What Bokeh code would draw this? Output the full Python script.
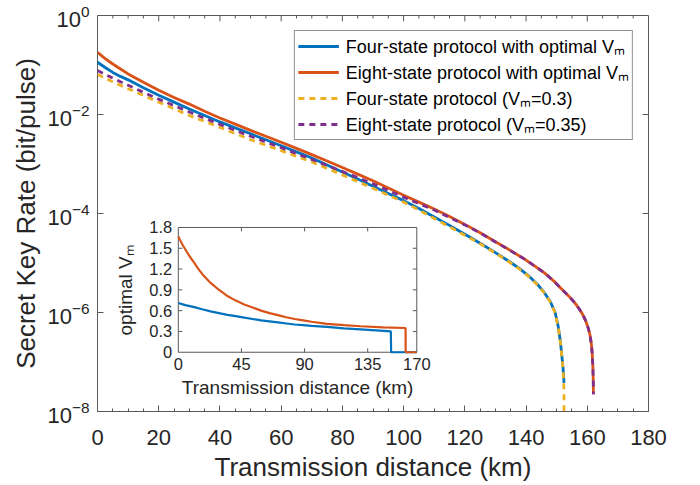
import numpy as np
from bokeh.plotting import figure
from bokeh.models import (Range1d, LinearScale, FixedTicker, SingleIntervalTicker,
                          Legend, LegendItem, ColumnDataSource)
from bokeh.core.properties import value
from bokeh.embed import file_html
from bokeh.resources import INLINE

# ---------------- data ----------------
# main plot: secret key rate, stored as log10(rate)
dist_four_opt = [0, 2.5, 5, 7.5, 10, 15, 20, 25, 30, 35, 40, 45, 50, 55, 60, 65, 70, 75, 80, 85,
                 90, 95, 100, 105, 110, 115, 120, 125, 130, 135, 138, 141, 144, 146, 148, 149.5,
                 150.5, 151.2, 151.7, 152.1, 152.4]
log_four_opt = [-0.945, -1.05, -1.15, -1.23, -1.30, -1.46, -1.61, -1.75, -1.89, -2.02, -2.15,
                -2.27, -2.39, -2.51, -2.63, -2.755, -2.88, -3.02, -3.16, -3.305, -3.45, -3.595,
                -3.74, -3.90, -4.07, -4.24, -4.42, -4.60, -4.79, -4.99, -5.12, -5.27, -5.45,
                -5.60, -5.79, -6.00, -6.28, -6.58, -6.88, -7.13, -7.42]

dist_eight_opt = [0, 2.5, 5, 7.5, 10, 15, 20, 25, 30, 35, 40, 45, 50, 55, 60, 65, 70, 75, 80, 85,
                  90, 95, 100, 105, 110, 115, 120, 125, 130, 135, 140, 143, 146, 149, 152, 154,
                  156, 157.5, 158.5, 159.5, 160.3, 160.9, 161.3, 161.6, 161.8, 161.95, 162.0]
log_eight_opt = [-0.745, -0.87, -0.98, -1.08, -1.18, -1.35, -1.51, -1.655, -1.79, -1.935, -2.07,
                 -2.195, -2.32, -2.44, -2.56, -2.685, -2.81, -2.94, -3.07, -3.205, -3.34, -3.485,
                 -3.63, -3.77, -3.91, -4.06, -4.22, -4.39, -4.57, -4.75, -4.94, -5.07, -5.20,
                 -5.36, -5.55, -5.67, -5.81, -5.94, -6.04, -6.17, -6.31, -6.46, -6.62, -6.82,
                 -7.05, -7.35, -7.65]

dist_four_fix = [0, 2.5, 5, 7.5, 10, 15, 20, 25, 30, 35, 40, 45, 50, 55, 60, 65, 70, 75, 80, 85,
                 90, 95, 100, 105, 110, 115, 120, 125, 130, 135, 138, 141, 144, 146, 148, 149.5,
                 150.5, 151.2, 151.7, 152.1, 152.4, 152.45]
log_four_fix = [-1.19, -1.265, -1.34, -1.41, -1.48, -1.615, -1.75, -1.885, -2.02, -2.14, -2.26,
                -2.385, -2.51, -2.62, -2.73, -2.845, -2.96, -3.09, -3.22, -3.355, -3.49, -3.63,
                -3.77, -3.93, -4.10, -4.27, -4.44, -4.61, -4.80, -5.00, -5.13, -5.28, -5.46,
                -5.61, -5.80, -6.01, -6.29, -6.59, -6.89, -7.15, -7.60, -9.0]

dist_eight_fix = [0, 2.5, 5, 7.5, 10, 15, 20, 25, 30, 35, 40, 45, 50, 55, 60, 65, 70, 75, 80, 85,
                  90, 95, 100, 105, 110, 115, 120, 125, 130, 135, 140, 143, 146, 149, 152, 154,
                  156, 157.5, 158.5, 159.5, 160.3, 160.9, 161.3, 161.6, 161.8, 161.95, 162.0]
log_eight_fix = [-1.11, -1.19, -1.265, -1.34, -1.41, -1.55, -1.69, -1.82, -1.95, -2.075, -2.20,
                 -2.32, -2.44, -2.555, -2.67, -2.79, -2.91, -3.03, -3.15, -3.275, -3.40, -3.535,
                 -3.67, -3.80, -3.93, -4.08, -4.23, -4.395, -4.575, -4.755, -4.94, -5.07, -5.20,
                 -5.36, -5.55, -5.67, -5.81, -5.94, -6.04, -6.17, -6.31, -6.46, -6.62, -6.82,
                 -7.05, -7.35, -7.65]

# inset: optimal V_m
inset_dist_four = [0, 5, 11.4, 17, 23, 29, 35, 41, 47, 53, 59, 65, 71, 77, 83, 89, 95, 106, 118,
                   130, 141, 151.5, 151.7, 170]
inset_vm_four = [0.71, 0.68, 0.65, 0.62, 0.59, 0.565, 0.54, 0.52, 0.50, 0.48, 0.46, 0.445, 0.43,
                 0.415, 0.40, 0.39, 0.38, 0.365, 0.345, 0.33, 0.315, 0.30, 0.0, 0.0]
inset_dist_eight = [0, 1.5, 3, 4.5, 6, 8.5, 11.4, 14, 17, 20, 23, 26, 29, 32, 35, 41, 47, 53, 59,
                    65, 71, 77, 83, 89, 95, 106, 118, 130, 146, 162, 162.05, 170]
inset_vm_eight = [1.67, 1.61, 1.55, 1.50, 1.45, 1.37, 1.29, 1.21, 1.13, 1.065, 1.0, 0.95, 0.90,
                  0.855, 0.81, 0.745, 0.69, 0.645, 0.60, 0.565, 0.535, 0.505, 0.48, 0.46, 0.44,
                  0.41, 0.39, 0.375, 0.36, 0.35, 0.0, 0.0]

labels = ["Four-state protocol with optimal V\u2098",
          "Eight-state protocol with optimal V\u2098",
          "Four-state protocol (V\u2098=0.3)",
          "Eight-state protocol (V\u2098=0.35)"]

y_major = [1e-8, 1e-6, 1e-4, 1e-2, 1e0]
inset_xticks = [0, 45, 90, 135, 170]
inset_xtick_labels = ["0", "45", "90", "135", "170"]
inset_yticks = [0, 0.3, 0.6, 0.9, 1.2, 1.5, 1.8]
inset_ytick_labels = ["0", "0.3", "0.6", "0.9", "1.2", "1.5", "1.8"]
INSET_XLIM = (0, 170)
INSET_YLIM = (0, 1.8)
X_LIM = (0, 180)
Y_LIM = (1e-8, 1)

# ---------------- style ----------------
FONT = "Liberation Sans"
BLUE, ORANGE, YELLOW, PURPLE = "#0072BD", "#D95319", "#EDB120", "#7E2F8E"
AX = "#262626"
FRAME = "#595959"

W, H = 684, 484
ML, MR, MT, MB = 97, 36, 15, 66
FW, FH = W - ML - MR, H - MT - MB

p = figure(width=W, height=H, output_backend="svg", toolbar_location=None,
           x_range=Range1d(*X_LIM), y_range=Range1d(*Y_LIM), y_axis_type="log",
           min_border_left=ML, min_border_right=MR, min_border_top=MT, min_border_bottom=MB,
           background_fill_color="white", border_fill_color="white")
p.grid.visible = False
p.outline_line_color = FRAME
p.outline_line_width = 1

xa = p.xaxis[0]
xa.ticker = SingleIntervalTicker(interval=20, num_minor_ticks=4)
ya = p.yaxis[0]
ya.ticker = FixedTicker(ticks=y_major, minor_ticks=[])

for ax in (xa, ya):
    ax.axis_line_color = None
    ax.major_tick_in = 6
    ax.major_tick_out = 0
    ax.minor_tick_in = 3
    ax.minor_tick_out = 0
    ax.major_tick_line_color = FRAME
    ax.minor_tick_line_color = FRAME
    ax.major_label_text_font = FONT
    ax.major_label_text_font_size = "22px"
    ax.major_label_text_color = AX
    ax.axis_label_text_font = FONT
    ax.axis_label_text_font_size = "26px"
    ax.axis_label_text_font_style = "normal"
    ax.axis_label_text_color = AX

xa.axis_label = "Transmission distance (km)"
xa.major_label_standoff = 18
xa.axis_label_standoff = 4
ya.axis_label = "Secret Key Rate (bit/pulse)"
ya.major_label_standoff = 8
ya.axis_label_standoff = 3

# ---------------- main curves ----------------
def src(d, lg):
    return ColumnDataSource(dict(x=d, y=[10.0 ** v for v in lg]))

r1 = p.line("x", "y", source=src(dist_four_opt, log_four_opt), line_color=BLUE, line_width=2.8)
r2 = p.line("x", "y", source=src(dist_eight_opt, log_eight_opt), line_color=ORANGE, line_width=2.8)
r3 = p.line("x", "y", source=src(dist_four_fix, log_four_fix), line_color=YELLOW, line_width=2.8,
            line_dash="6 5")
r4 = p.line("x", "y", source=src(dist_eight_fix, log_eight_fix), line_color=PURPLE, line_width=2.8,
            line_dash="6 5")

# mirrored ticks on the top and right edges of the main box
mx = 6 * (X_LIM[1] - X_LIM[0]) / FW          # 6 px in x data units
decades_per_px = np.log10(Y_LIM[1] / Y_LIM[0]) / FH
top_major = list(range(X_LIM[0] + 20, X_LIM[1], 20))
top_minor = [v for v in range(X_LIM[0] + 5, X_LIM[1], 5) if v % 20 != 0]
p.segment(x0=top_major, x1=top_major, y0=[Y_LIM[1]] * len(top_major),
          y1=[Y_LIM[1] * 10 ** (-6 * decades_per_px)] * len(top_major), line_color=FRAME, line_width=1)
p.segment(x0=top_minor, x1=top_minor, y0=[Y_LIM[1]] * len(top_minor),
          y1=[Y_LIM[1] * 10 ** (-3 * decades_per_px)] * len(top_minor), line_color=FRAME, line_width=1)
p.segment(x0=[X_LIM[1]] * 3, x1=[X_LIM[1] - mx] * 3, y0=y_major[1:-1], y1=y_major[1:-1],
          line_color=FRAME, line_width=1)

legend = Legend(items=[LegendItem(label=labels[i], renderers=[r]) for i, r in enumerate([r1, r2, r3, r4])],
                location="top_right", margin=15, padding=3, spacing=2,
                label_text_font=FONT, label_text_font_size="18px", label_text_color="black",
                glyph_width=41, glyph_height=22, label_height=22, label_standoff=7,
                border_line_color=AX, border_line_width=1, background_fill_alpha=1)
p.add_layout(legend)

# ---------------- inset (drawn in its own ranges) ----------------
IL, IR, IT, IB = 80.8, 319.3, 215.7, 342.7   # inset box in px, relative to the frame
kx = (IR - IL) / (INSET_XLIM[1] - INSET_XLIM[0])
ky = (IB - IT) / (INSET_YLIM[1] - INSET_YLIM[0])
p.extra_x_ranges = {"ix": Range1d(INSET_XLIM[0] - IL / kx, INSET_XLIM[1] + (FW - IR) / kx)}
p.extra_y_ranges = {"iy": Range1d(INSET_YLIM[0] - (FH - IB) / ky, INSET_YLIM[1] + IT / ky)}
p.extra_x_scales = {"ix": LinearScale()}
p.extra_y_scales = {"iy": LinearScale()}
kw = dict(x_range_name="ix", y_range_name="iy")

p.quad(left=[INSET_XLIM[0]], right=[INSET_XLIM[1]], bottom=[INSET_YLIM[0]], top=[INSET_YLIM[1]],
       fill_color="white", line_color=FRAME, line_width=1, **kw)

p.line(inset_dist_four, inset_vm_four, line_color=BLUE, line_width=2.2, **kw)
p.line(inset_dist_eight, inset_vm_eight, line_color=ORANGE, line_width=2.2, **kw)

tlx, tly = 4 / kx, 4 / ky
x0s, y0s, x1s, y1s = [], [], [], []
for t in inset_xticks[1:-1]:
    x0s += [t, t]; x1s += [t, t]
    y0s += [INSET_YLIM[0], INSET_YLIM[1]]; y1s += [INSET_YLIM[0] + tly, INSET_YLIM[1] - tly]
for t in inset_yticks[1:-1]:
    y0s += [t, t]; y1s += [t, t]
    x0s += [INSET_XLIM[0], INSET_XLIM[1]]; x1s += [INSET_XLIM[0] + tlx, INSET_XLIM[1] - tlx]
p.segment(x0=x0s, y0=y0s, x1=x1s, y1=y1s, line_color=FRAME, line_width=1, **kw)

p.text(x=inset_xticks, y=[INSET_YLIM[0] - 12 / ky] * len(inset_xticks), text=inset_xtick_labels,
       text_font=value(FONT), text_font_size="16.5px", text_color=AX,
       text_align="center", text_baseline="middle", **kw)
p.text(x=[INSET_XLIM[0] - 6 / kx] * len(inset_yticks), y=inset_yticks, text=inset_ytick_labels,
       text_font=value(FONT), text_font_size="16.5px", text_color=AX,
       text_align="right", text_baseline="middle", **kw)
p.text(x=[(INSET_XLIM[0] + INSET_XLIM[1]) / 2], y=[INSET_YLIM[0] - 36 / ky],
       text=["Transmission distance (km)"], text_font=value(FONT), text_font_size="19px",
       text_color=AX, text_align="center", text_baseline="middle", **kw)
p.text(x=[INSET_XLIM[0] - 53 / kx], y=[(INSET_YLIM[0] + INSET_YLIM[1]) / 2],
       text=["optimal V\u2098"], text_font=value(FONT), text_font_size="19px", angle=np.pi / 2,
       text_color=AX, text_align="center", text_baseline="middle", **kw)

open("out.html", "w").write(file_html(p, INLINE))
